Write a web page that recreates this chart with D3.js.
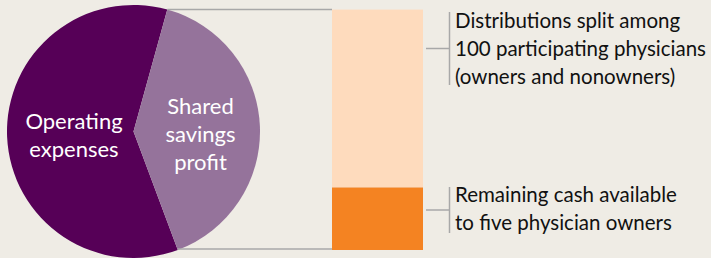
<!DOCTYPE html>
<html><head><meta charset="utf-8">
<script src="https://cdn.jsdelivr.net/npm/d3@7"></script>
<style>
html,body{margin:0;padding:0;background:#efece5;}
svg{display:block;}
text{font-family:Lato, "Open Sans", sans-serif;}
</style></head>
<body>
<svg id="chart" width="711" height="258"></svg>
<script>
// Data
const pieCategories = ["Operating expenses", "Shared savings profit"];
const pieValues = [60, 40];
const pieLabels = [["Operating", "expenses"], ["Shared", "savings", "profit"]];
const barCategories = ["Distributions", "Remaining"];
const barValues = [74, 26];
const barLabels = [
  ["Distributions split among", "100 participating physicians", "(owners and nonowners)"],
  ["Remaining cash available", "to five physician owners"]
];

const pieColors = ["#560057", "#95739b"];
const barColors = ["#fedbbd", "#f48322"];
const lineColor = "#a8a8a8";

const svg = d3.select("#chart");
svg.append("rect").attr("width", 711).attr("height", 258).attr("fill", "#efece5");

const cx = 133.5, cy = 131.5, r = 126.5;
const startDeg = 159.5;
const pie = d3.pie().sort(null).value(d => d)
  .startAngle(startDeg * Math.PI / 180)
  .endAngle(startDeg * Math.PI / 180 + 2 * Math.PI);
const arcs = pie(pieValues);
const arc = d3.arc().innerRadius(0).outerRadius(r);

const g = svg.append("g").attr("transform", `translate(${cx},${cy})`);
g.selectAll("path").data(arcs).join("path")
  .attr("d", arc).attr("fill", (d, i) => pieColors[i]);

// pie labels
const labelPos = [[74, 129], [200.5, 114]];
pieLabels.forEach((lines, i) => {
  const t = svg.append("text").attr("text-anchor", "middle")
    .attr("fill", "#ffffff").attr("font-size", 22);
  lines.forEach((l, j) => {
    t.append("tspan").attr("x", labelPos[i][0]).attr("y", labelPos[i][1] + j * 28).text(l);
  });
});

// endpoints of the savings slice
const sav = arcs[1];
const pt = a => [cx + r * Math.sin(a), cy - r * Math.cos(a)];
const pTop = pt(sav.startAngle);
const pBot = pt(sav.endAngle);

// bar
const barX0 = 332, barW = 91;
const y = d3.scaleLinear().domain([0, d3.sum(barValues)]).range([pBot[1], pTop[1]]);
const stack = [];
let acc = d3.sum(barValues);
barValues.forEach((v, i) => { stack.push({y0: acc - v, y1: acc, i}); acc -= v; });
svg.selectAll("rect.bar").data(stack).join("rect").attr("class", "bar")
  .attr("x", barX0).attr("width", barW)
  .attr("y", d => y(d.y1)).attr("height", d => y(d.y0) - y(d.y1))
  .attr("fill", d => barColors[d.i]);

// connector lines
svg.append("line").attr("x1", pTop[0]).attr("y1", y(100)).attr("x2", barX0).attr("y2", y(100))
  .attr("stroke", lineColor).attr("stroke-width", 1.5);
svg.append("line").attr("x1", pBot[0]).attr("y1", y(0) - 1).attr("x2", barX0).attr("y2", y(0) - 1)
  .attr("stroke", lineColor).attr("stroke-width", 1.5);

// brackets and annotations
const brX = 449.5, brX0 = 426, textX = 455;
const brackets = [
  {top: 12, bottom: 85, base: 27.5, step: 28},
  {top: 187, bottom: 233, base: 201.5, step: 28}
];
brackets.forEach((b, i) => {
  const mid = (b.top + b.bottom) / 2;
  svg.append("line").attr("x1", brX).attr("x2", brX).attr("y1", b.top).attr("y2", b.bottom)
    .attr("stroke", lineColor).attr("stroke-width", 1.5);
  svg.append("line").attr("x1", brX0).attr("x2", brX).attr("y1", mid).attr("y2", mid)
    .attr("stroke", lineColor).attr("stroke-width", 1.5);
  const t = svg.append("text").attr("fill", "#111111").attr("font-size", 20.5);
  barLabels[i].forEach((l, j) => {
    t.append("tspan").attr("x", textX).attr("y", b.base + j * b.step).text(l);
  });
});
</script>
</body></html>
